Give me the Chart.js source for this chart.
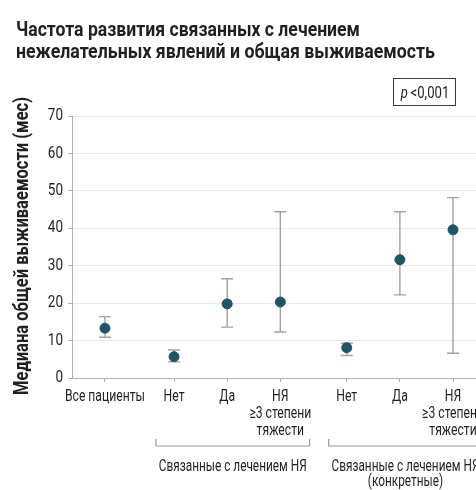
<!DOCTYPE html>
<html lang="ru">
<head>
<meta charset="utf-8">
<script src="https://cdn.jsdelivr.net/npm/chart.js@4/dist/chart.umd.min.js"></script>
<style>
  html, body { margin: 0; padding: 0; width: 476px; height: 490px; overflow: hidden; background: #fff; }
  #wrap { position: relative; width: 476px; height: 490px; overflow: hidden; }
  #chart { position: absolute; left: 0; top: 0; }
  .title { position: absolute; left: 16px; top: 19px; margin: 0; font: bold 19.5px Roboto, sans-serif; color: #231f20; }
  .title span { display: block; white-space: nowrap; line-height: 22px; transform-origin: 0 50%; width: max-content; }
  .pbox {
    position: absolute; left: 393px; top: 78px; width: 63px; height: 28px; box-sizing: border-box;
    border: 1px solid #3a3a3a; overflow: hidden;
  }
  .pbox span {
    position: absolute; left: 50%; top: 50%; white-space: nowrap;
    font: 16px Roboto, sans-serif; color: #231f20;
    transform: translate(-50%, -50%) scaleX(0.82);
  }
</style>
</head>
<body>
<div id="wrap">
  <canvas id="chart" width="560" height="490"></canvas>
  <h1 class="title"><span data-w="344">Частота развития связанных с лечением</span><span data-w="419">нежелательных явлений и общая выживаемость</span></h1>
  <div class="pbox"><span><i>p</i>&#8201;&lt;0,001</span></div>
</div>
<script>
// Category labels along the x axis (multi-line where needed)
const categories = [
  ["Все пациенты"],
  ["Нет"], ["Да"], ["НЯ", "≥3 степени", "тяжести"],
  ["Нет"], ["Да"], ["НЯ", "≥3 степени", "тяжести"]
];
// Position of each category on the x axis (groups separated by a wider gap)
const positions = [0, 1.3, 2.3, 3.3, 4.55, 5.55, 6.55];
// Median overall survival, months
const medianOS = [13.3, 5.7, 19.8, 20.3, 8.1, 31.6, 39.6];
// 95% CI bounds, months
const ciLow  = [10.9, 4.3, 13.6, 12.3, 6.0, 22.2, 6.6];
const ciHigh = [16.4, 7.5, 26.5, 44.4, 9.3, 44.4, 48.2];
// Group captions under the brackets (indices into categories)
const groupLabels = [
  { from: 1, to: 3, lines: ["Связанные с лечением НЯ"] },
  { from: 4, to: 6, lines: ["Связанные с лечением НЯ", "(конкретные)"] }
];
const yTicks = [0, 10, 20, 30, 40, 50, 60, 70];
const yTitle = "Медиана общей выживаемости (мес)";

const FONT = 'Roboto, sans-serif';
const TEXT = '#231f20';

// Squeeze each title line horizontally to a condensed look
document.querySelectorAll('.title span').forEach(s => {
  const w = s.getBoundingClientRect().width;
  s.style.transform = 'scaleX(' + (Number(s.dataset.w) / w) + ')';
});

// Draw text squeezed horizontally by factor sx (condensed type)
function condensed(ctx, text, x, y, font, sx, align) {
  ctx.save();
  ctx.font = font;
  ctx.textBaseline = 'middle';
  ctx.textAlign = align || 'center';
  ctx.translate(x, y);
  ctx.scale(sx, 1);
  ctx.fillText(text, 0, 0);
  ctx.restore();
}
function fitScale(ctx, text, font, width) {
  ctx.save(); ctx.font = font;
  const w = ctx.measureText(text).width;
  ctx.restore();
  return width / w;
}

const errorBars = {
  id: 'errorBars',
  beforeDatasetsDraw(chart) {
    const { ctx, scales: { x, y } } = chart;
    ctx.save();
    ctx.strokeStyle = '#a89f9f';
    ctx.lineWidth = 1.4;
    positions.forEach((p, i) => {
      const px = x.getPixelForValue(p);
      const lo = y.getPixelForValue(ciLow[i]);
      const hi = y.getPixelForValue(ciHigh[i]);
      ctx.beginPath();
      ctx.moveTo(px, lo); ctx.lineTo(px, hi);
      ctx.moveTo(px - 6, lo); ctx.lineTo(px + 6, lo);
      ctx.moveTo(px - 6, hi); ctx.lineTo(px + 6, hi);
      ctx.stroke();
    });
    ctx.restore();
  }
};

const labelsPlugin = {
  id: 'labelsPlugin',
  afterDraw(chart) {
    const { ctx, scales: { x, y }, chartArea } = chart;
    ctx.save();
    ctx.fillStyle = TEXT;

    // y tick labels
    const tickFont = '16.5px ' + FONT;
    yTicks.forEach(v => condensed(ctx, String(v), 63, y.getPixelForValue(v), tickFont, 0.82, 'right'));

    // x category labels
    const catFont = '16.5px ' + FONT;
    const sxCat = fitScale(ctx, 'Все пациенты', catFont, 80);
    positions.forEach((p, i) => {
      const px = x.getPixelForValue(p);
      categories[i].forEach((t, k) => condensed(ctx, t, px, chartArea.bottom + 19 + k * 17, catFont, sxCat, 'center'));
    });

    // rotated y-axis title
    const titleFont = 'bold 20px ' + FONT;
    const sxTitle = fitScale(ctx, yTitle, titleFont, 298);
    ctx.save();
    ctx.translate(23, 246);
    ctx.rotate(-Math.PI / 2);
    condensed(ctx, yTitle, 0, 0, titleFont, sxTitle, 'center');
    ctx.restore();

    // group brackets and captions
    ctx.strokeStyle = '#9a9a9a';
    ctx.lineWidth = 1.2;
    const grpFont = '16.5px ' + FONT;
    const sxGrp = fitScale(ctx, groupLabels[0].lines[0], grpFont, 148);
    const by = chartArea.bottom + 68;
    groupLabels.forEach(g => {
      const x0 = x.getPixelForValue(positions[g.from] - 0.34);
      const x1 = x.getPixelForValue(positions[g.to] + 0.55);
      ctx.beginPath();
      ctx.moveTo(x0, by - 7); ctx.lineTo(x0, by); ctx.lineTo(x1, by); ctx.lineTo(x1, by - 7);
      ctx.stroke();
      const cx = (x0 + x1) / 2;
      g.lines.forEach((t, k) => condensed(ctx, t, cx, by + 21 + k * 15, grpFont, sxGrp, 'center'));
    });
    ctx.restore();
  }
};

new Chart(document.getElementById('chart'), {
  type: 'scatter',
  data: {
    datasets: [{
      data: positions.map((p, i) => ({ x: p, y: medianOS[i] })),
      backgroundColor: '#1c5668',
      borderColor: '#1c5668',
      pointRadius: 5,
      pointHoverRadius: 5
    }]
  },
  plugins: [errorBars, labelsPlugin],
  options: {
    responsive: false,
    animation: false,
    events: [],
    layout: { padding: { top: 116, left: 0, right: 0, bottom: 0 } },
    plugins: { legend: { display: false }, tooltip: { enabled: false } },
    scales: {
      x: {
        type: 'linear',
        min: -0.62,
        max: 8.45,
        afterFit(s) { s.height = 112; },
        afterBuildTicks(s) { s.ticks = positions.map(v => ({ value: v })); },
        grid: { display: true, drawOnChartArea: false, drawTicks: true, tickLength: 4, tickColor: '#b0b0b0' },
        border: { color: '#b0b0b0', width: 1 },
        ticks: { display: false }
      },
      y: {
        min: 0, max: 70,
        afterFit(s) { s.width = 72; },
        afterBuildTicks(s) { s.ticks = yTicks.map(v => ({ value: v })); },
        grid: { color: '#e8e8e8', drawTicks: true, tickLength: 4, tickColor: '#b0b0b0', lineWidth: 1 },
        border: { color: '#b0b0b0', width: 1 },
        ticks: { display: false }
      }
    }
  }
});
</script>
</body>
</html>
